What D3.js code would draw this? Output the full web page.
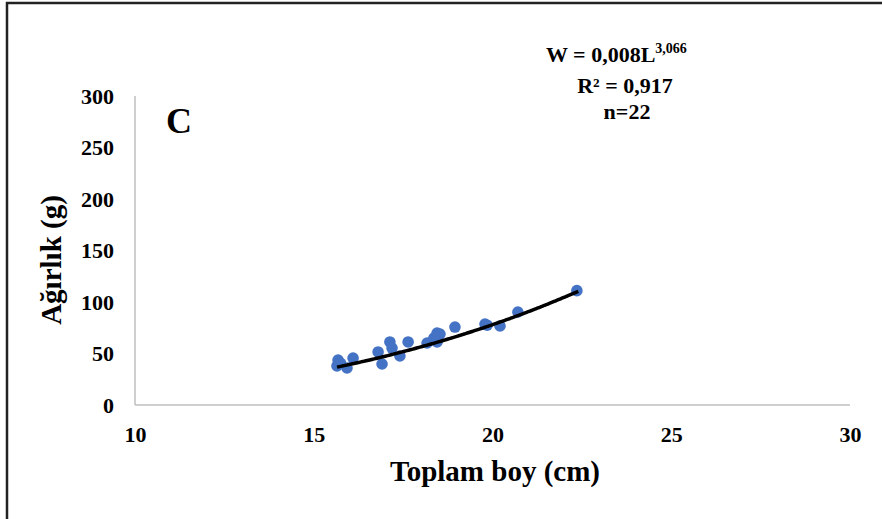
<!DOCTYPE html>
<html><head><meta charset="utf-8">
<script src="https://cdn.jsdelivr.net/npm/d3@7"></script>
<style>body{margin:0;background:#fff}svg{display:block}text{font-family:"Liberation Serif","Times New Roman",serif;font-weight:bold;fill:#000}</style>
</head><body><svg id="c" width="882" height="519"></svg>
<script>
const lengths = [15.68,15.65,15.75,15.93,16.10,16.80,16.91,17.13,17.19,17.41,17.64,18.17,18.36,18.45,18.53,18.45,18.95,19.79,19.85,20.21,20.71,22.36];
const weights = [43.7,37.9,40.5,35.9,45.6,51.5,39.8,61.2,55.3,47.6,61.2,60.2,65.0,69.9,68.9,61.2,75.7,78.6,77.5,76.7,90.3,111.0];
const xTicks = [10,15,20,25,30];
const yTicks = [0,50,100,150,200,250,300];
const coefA = 0.008, coefB = 3.066;
const fitRange = [15.65, 22.4];

const svg = d3.select("#c");
const x = d3.scaleLinear().domain([10,30]).range([135,850]);
const y = d3.scaleLinear().domain([0,300]).range([405,96]);

// frame
svg.append("line").attr("x1",6).attr("x2",882).attr("y1",3).attr("y2",3).attr("stroke","#222").attr("stroke-width",2.5);
svg.append("line").attr("x1",7).attr("x2",7).attr("y1",2).attr("y2",519).attr("stroke","#222").attr("stroke-width",2.5);

// axes lines
svg.append("line").attr("x1",x(10)).attr("x2",x(30)).attr("y1",y(0)).attr("y2",y(0)).attr("stroke","#bfbfbf").attr("stroke-width",1.5);
svg.append("line").attr("x1",x(10)).attr("x2",x(10)).attr("y1",y(0)).attr("y2",y(300)).attr("stroke","#bfbfbf").attr("stroke-width",1.5);

const xAxis = d3.axisBottom(x).tickValues(xTicks).tickSize(0).tickPadding(0).tickFormat(d3.format("d"));
const gx = svg.append("g").attr("transform",`translate(0,${y(0)})`).call(xAxis);
gx.select(".domain").remove();
gx.selectAll("text").attr("dy",null).attr("y",37).style("font-size","22px").style("font-family",'"Liberation Serif",serif').style("font-weight","bold").attr("fill","#000");

const yAxis = d3.axisLeft(y).tickValues(yTicks).tickSize(0).tickPadding(0).tickFormat(d3.format("d"));
const gy = svg.append("g").attr("transform",`translate(${x(10)},0)`).call(yAxis);
gy.select(".domain").remove();
gy.selectAll("text").attr("x",-21).attr("dy","0.32em").style("font-size","22px").style("font-family",'"Liberation Serif",serif').style("font-weight","bold").attr("fill","#000");

// fitted curve
const curvePts = d3.range(0,101).map(i => {const L = fitRange[0] + (fitRange[1]-fitRange[0])*i/100; return [L, coefA*Math.pow(L,coefB)];});

// points
svg.append("g").selectAll("circle").data(lengths.map((d,i)=>[d,weights[i]])).join("circle")
  .attr("cx",d=>x(d[0])).attr("cy",d=>y(d[1])).attr("r",5.8).attr("fill","#4472C4");

svg.append("path").datum(curvePts).attr("d",d3.line().x(d=>x(d[0])).y(d=>y(d[1])).curve(d3.curveMonotoneX))
  .attr("fill","none").attr("stroke","#000").attr("stroke-width",3.5);

// titles
svg.append("text").attr("x",495).attr("y",481).attr("text-anchor","middle").style("font-size","29px").text("Toplam boy (cm)");
svg.append("text").attr("transform","translate(61,260) rotate(-90)").attr("text-anchor","middle").style("font-size","29px").text("Ağırlık (g)");
svg.append("text").attr("x",166).attr("y",133).style("font-size","36px").text("C");

// equation
const eq = svg.append("text").attr("x",546).attr("y",62).style("font-size","22px");
eq.append("tspan").text("W = 0,008L");
eq.append("tspan").attr("dy",-9).style("font-size","14px").text("3,066");
svg.append("text").attr("x",625).attr("y",93).attr("text-anchor","middle").style("font-size","22px").text("R² = 0,917");
svg.append("text").attr("x",627).attr("y",119).attr("text-anchor","middle").style("font-size","22px").text("n=22");
</script></body></html>
